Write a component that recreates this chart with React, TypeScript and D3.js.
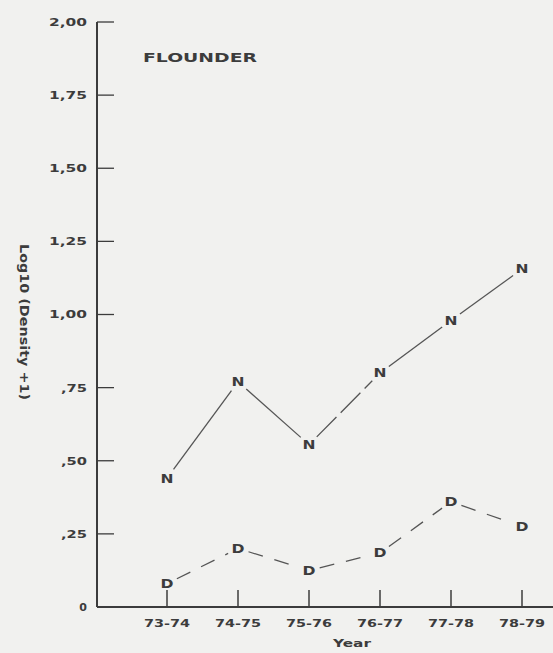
import React from 'react';
import * as d3 from 'd3';

const years = ['73-74', '74-75', '75-76', '76-77', '77-78', '78-79'];
const nValues = [0.44, 0.77, 0.555, 0.8, 0.98, 1.155];
const dValues = [0.08, 0.2, 0.125, 0.185, 0.36, 0.275];
const yTicks = [0, 0.25, 0.5, 0.75, 1.0, 1.25, 1.5, 1.75, 2.0];
const yTickLabels = ['0', ',25', ',50', ',75', '1,00', '1,25', '1,50', '1,75', '2,00'];

const W = 553, H = 653;
const axisX = 97, baseY = 607;
const font = '"DejaVu Sans", "Liberation Sans", sans-serif';
const ink = '#3c3c3c';

// shorten a segment so it does not run into the letter markers
function trim(a: [number, number], b: [number, number], gap: number) {
  const dx = b[0] - a[0], dy = b[1] - a[1];
  const len = Math.sqrt(dx * dx + dy * dy);
  const ux = dx / len, uy = dy / len;
  return [a[0] + ux * gap, a[1] + uy * gap, b[0] - ux * gap, b[1] - uy * gap];
}

// scanned lettering is wide, stretch to measured widths
function labelLen(s: string) {
  if (s.length === 1) return undefined;
  return s.length === 3 ? 26 : 38;
}

export default function App() {
  const x = d3.scalePoint<string>().domain(years).range([167, 522]);
  const y = d3.scaleLinear().domain([0, 2]).range([baseY, 22]);

  const nPts: [number, number][] = years.map((yr, i) => [x(yr)!, y(nValues[i])]);
  const dPts: [number, number][] = years.map((yr, i) => [x(yr)!, y(dValues[i])]);

  return (
    <svg width={W} height={H} style={{ position: 'absolute', left: 0, top: 0, background: '#f1f1ef' }}>
      <rect width={W} height={H} fill="#f1f1ef" />

      {/* y axis */}
      <line x1={axisX} x2={axisX} y1={y(2)} y2={baseY} stroke={ink} strokeWidth={2} />
      {yTicks.map((t, i) => (
        <g key={t}>
          {t > 0 && <line x1={axisX} x2={axisX + 17} y1={y(t)} y2={y(t)} stroke={ink} strokeWidth={1.3} />}
          <text x={87} y={y(t)} dy="0.36em" textAnchor="end" fontFamily={font} fontWeight="bold"
            fontSize={11} fill={ink} textLength={labelLen(yTickLabels[i])}
            lengthAdjust="spacingAndGlyphs">{yTickLabels[i]}</text>
        </g>
      ))}

      {/* x axis */}
      <line x1={axisX} x2={W} y1={baseY} y2={baseY} stroke={ink} strokeWidth={2} />
      {years.map(yr => (
        <g key={yr}>
          <line x1={x(yr)} x2={x(yr)} y1={baseY} y2={baseY - 17} stroke={ink} strokeWidth={1.5} />
          <text x={x(yr)} y={623} dy="0.36em" textAnchor="middle" fontFamily={font} fontWeight="bold"
            fontSize={11} fill={ink} textLength={46} lengthAdjust="spacingAndGlyphs">{yr}</text>
        </g>
      ))}
      <text x={352} y={643} dy="0.36em" textAnchor="middle" fontFamily={font} fontWeight="bold"
        fontSize={10} fill={ink} textLength={38} lengthAdjust="spacingAndGlyphs">Year</text>

      <text transform={`translate(24,322) rotate(90)`} textAnchor="middle" dy="0.36em" fontFamily={font}
        fontWeight="bold" fontSize={12} fill={ink} textLength={156}
        lengthAdjust="spacingAndGlyphs">Log10 (Density +1)</text>

      <text x={143} y={58} dy="0.36em" fontFamily={font} fontWeight="bold" fontSize={12} fill={ink}
        textLength={114} lengthAdjust="spacingAndGlyphs">FLOUNDER</text>

      {/* N series: solid */}
      {nPts.slice(1).map((p, i) => {
        const [x1, y1, x2, y2] = trim(nPts[i], p, 11);
        return <line key={'n' + i} x1={x1} y1={y1} x2={x2} y2={y2} stroke="#555" strokeWidth={1.3}
          strokeDasharray={i === 2 ? '28,6' : undefined} />;
      })}
      {/* D series: dashed */}
      {dPts.slice(1).map((p, i) => {
        const [x1, y1, x2, y2] = trim(dPts[i], p, 11);
        return <line key={'d' + i} x1={x1} y1={y1} x2={x2} y2={y2} stroke="#555" strokeWidth={1.3}
          strokeDasharray="15,12" />;
      })}

      {nPts.map((p, i) => (
        <text key={'nl' + i} x={p[0]} y={p[1]} dy="0.36em" textAnchor="middle" fontFamily={font}
          fontWeight="bold" fontSize={12} fill={ink} textLength={13} lengthAdjust="spacingAndGlyphs">N</text>
      ))}
      {dPts.map((p, i) => (
        <text key={'dl' + i} x={p[0]} y={p[1]} dy="0.36em" textAnchor="middle" fontFamily={font}
          fontWeight="bold" fontSize={12} fill={ink} textLength={13} lengthAdjust="spacingAndGlyphs">D</text>
      ))}
    </svg>
  );
}
